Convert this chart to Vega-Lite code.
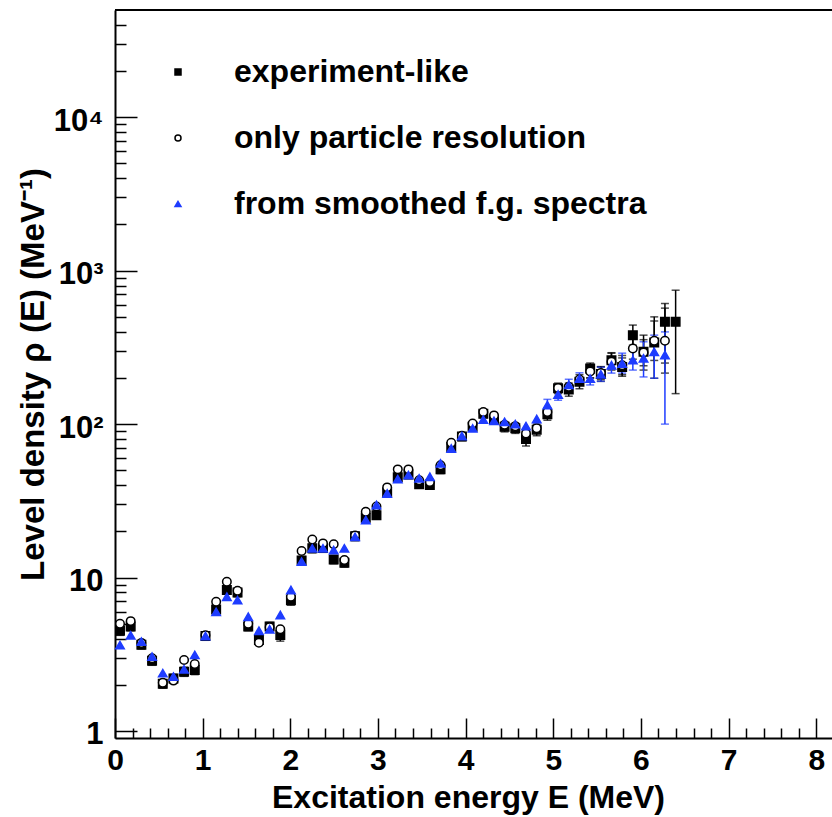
{
  "$schema": "https://vega.github.io/schema/vega-lite/v6.json",
  "width": 717,
  "height": 728,
  "autosize": "none",
  "padding": {"left": 115, "top": 10, "right": 0, "bottom": 79},
  "background": "white",
  "config": {
    "view": {"stroke": null},
    "font": "Liberation Sans",
    "axis": {
      "grid": false,
      "domainColor": "#000000",
      "domainWidth": 2,
      "tickColor": "#000000",
      "tickWidth": 1.5,
      "labelFont": "Liberation Sans",
      "labelFontWeight": "bold",
      "labelColor": "#000000",
      "labelFlush": false,
      "labelOverlap": false,
      "labelBound": false,
      "titleFont": "Liberation Sans",
      "titleFontWeight": "bold",
      "titleColor": "#000000"
    },
    "legend": {
      "orient": "none",
      "legendX": 47,
      "legendY": 46,
      "padding": 0,
      "symbolSize": 36,
      "symbolStrokeWidth": 1.5,
      "labelOffset": 40,
      "rowPadding": 34,
      "labelFont": "Liberation Sans",
      "labelFontWeight": "bold",
      "labelFontSize": 32,
      "labelColor": "#000000",
      "labelLimit": 600
    }
  },
  "resolve": {"axis": {"x": "independent", "y": "independent"}},
  "data": {
    "values": [
      {"s": "experiment-like", "E": 0.057, "v": 4.5, "lo": 4.2, "hi": 4.8},
      {"s": "experiment-like", "E": 0.179, "v": 4.8, "lo": 4.5, "hi": 5.1},
      {"s": "experiment-like", "E": 0.301, "v": 3.65, "lo": 3.42, "hi": 3.88},
      {"s": "experiment-like", "E": 0.423, "v": 2.87, "lo": 2.68, "hi": 3.06},
      {"s": "experiment-like", "E": 0.545, "v": 2.03, "lo": 1.9, "hi": 2.16},
      {"s": "experiment-like", "E": 0.667, "v": 2.2, "lo": 2.06, "hi": 2.34},
      {"s": "experiment-like", "E": 0.788, "v": 2.43, "lo": 2.27, "hi": 2.6},
      {"s": "experiment-like", "E": 0.91, "v": 2.5, "lo": 2.33, "hi": 2.68},
      {"s": "experiment-like", "E": 1.032, "v": 4.16, "lo": 3.9, "hi": 4.42},
      {"s": "experiment-like", "E": 1.154, "v": 6.2, "lo": 5.8, "hi": 6.6},
      {"s": "experiment-like", "E": 1.276, "v": 8.3, "lo": 7.8, "hi": 8.8},
      {"s": "experiment-like", "E": 1.398, "v": 8.0, "lo": 7.5, "hi": 8.5},
      {"s": "experiment-like", "E": 1.52, "v": 4.8, "lo": 4.5, "hi": 5.1},
      {"s": "experiment-like", "E": 1.642, "v": 3.92, "lo": 3.62, "hi": 4.22},
      {"s": "experiment-like", "E": 1.764, "v": 4.8, "lo": 4.5, "hi": 5.1},
      {"s": "experiment-like", "E": 1.886, "v": 4.22, "lo": 3.85, "hi": 4.6},
      {"s": "experiment-like", "E": 2.007, "v": 7.1, "lo": 6.6, "hi": 7.6},
      {"s": "experiment-like", "E": 2.129, "v": 12.9, "lo": 12.1, "hi": 13.7},
      {"s": "experiment-like", "E": 2.251, "v": 15.5, "lo": 14.5, "hi": 16.5},
      {"s": "experiment-like", "E": 2.373, "v": 15.6, "lo": 14.6, "hi": 16.6},
      {"s": "experiment-like", "E": 2.495, "v": 13.1, "lo": 12.3, "hi": 13.9},
      {"s": "experiment-like", "E": 2.617, "v": 12.5, "lo": 11.7, "hi": 13.3},
      {"s": "experiment-like", "E": 2.739, "v": 18.6, "lo": 17.4, "hi": 19.8},
      {"s": "experiment-like", "E": 2.861, "v": 24.5, "lo": 23, "hi": 26},
      {"s": "experiment-like", "E": 2.983, "v": 25.5, "lo": 24, "hi": 27},
      {"s": "experiment-like", "E": 3.105, "v": 36, "lo": 33.8, "hi": 38.2},
      {"s": "experiment-like", "E": 3.226, "v": 45, "lo": 42.3, "hi": 47.7},
      {"s": "experiment-like", "E": 3.348, "v": 47, "lo": 44.2, "hi": 49.8},
      {"s": "experiment-like", "E": 3.47, "v": 40.6, "lo": 38.2, "hi": 43},
      {"s": "experiment-like", "E": 3.592, "v": 40.1, "lo": 37.7, "hi": 42.5},
      {"s": "experiment-like", "E": 3.714, "v": 50.7, "lo": 47.6, "hi": 53.8},
      {"s": "experiment-like", "E": 3.836, "v": 71, "lo": 66.7, "hi": 75.3},
      {"s": "experiment-like", "E": 3.958, "v": 83, "lo": 78, "hi": 88},
      {"s": "experiment-like", "E": 4.08, "v": 96, "lo": 90, "hi": 102},
      {"s": "experiment-like", "E": 4.202, "v": 117, "lo": 110, "hi": 124},
      {"s": "experiment-like", "E": 4.324, "v": 107, "lo": 100, "hi": 114},
      {"s": "experiment-like", "E": 4.445, "v": 96, "lo": 89, "hi": 103},
      {"s": "experiment-like", "E": 4.567, "v": 94, "lo": 87, "hi": 101},
      {"s": "experiment-like", "E": 4.689, "v": 80, "lo": 72, "hi": 88},
      {"s": "experiment-like", "E": 4.811, "v": 92, "lo": 84, "hi": 100},
      {"s": "experiment-like", "E": 4.933, "v": 116, "lo": 106, "hi": 127},
      {"s": "experiment-like", "E": 5.055, "v": 171, "lo": 158, "hi": 185},
      {"s": "experiment-like", "E": 5.177, "v": 168, "lo": 152, "hi": 185},
      {"s": "experiment-like", "E": 5.299, "v": 189, "lo": 170, "hi": 210},
      {"s": "experiment-like", "E": 5.421, "v": 230, "lo": 200, "hi": 250},
      {"s": "experiment-like", "E": 5.543, "v": 212, "lo": 190, "hi": 236},
      {"s": "experiment-like", "E": 5.664, "v": 261, "lo": 230, "hi": 292},
      {"s": "experiment-like", "E": 5.786, "v": 236, "lo": 205, "hi": 270},
      {"s": "experiment-like", "E": 5.908, "v": 380, "lo": 327, "hi": 442},
      {"s": "experiment-like", "E": 6.03, "v": 296, "lo": 225, "hi": 380},
      {"s": "experiment-like", "E": 6.152, "v": 340, "lo": 199, "hi": 500},
      {"s": "experiment-like", "E": 6.274, "v": 464, "lo": 250, "hi": 611},
      {"s": "experiment-like", "E": 6.396, "v": 464, "lo": 158, "hi": 746},

      {"s": "only particle resolution", "E": 0.057, "v": 5.0},
      {"s": "only particle resolution", "E": 0.179, "v": 5.2},
      {"s": "only particle resolution", "E": 0.301, "v": 3.75},
      {"s": "only particle resolution", "E": 0.423, "v": 2.98},
      {"s": "only particle resolution", "E": 0.545, "v": 2.06},
      {"s": "only particle resolution", "E": 0.667, "v": 2.13},
      {"s": "only particle resolution", "E": 0.788, "v": 2.9},
      {"s": "only particle resolution", "E": 0.91, "v": 2.73},
      {"s": "only particle resolution", "E": 1.032, "v": 4.2},
      {"s": "only particle resolution", "E": 1.154, "v": 6.95},
      {"s": "only particle resolution", "E": 1.276, "v": 9.4},
      {"s": "only particle resolution", "E": 1.398, "v": 8.2},
      {"s": "only particle resolution", "E": 1.52, "v": 5.0},
      {"s": "only particle resolution", "E": 1.642, "v": 3.76},
      {"s": "only particle resolution", "E": 1.764, "v": 4.75},
      {"s": "only particle resolution", "E": 1.886, "v": 4.6},
      {"s": "only particle resolution", "E": 2.007, "v": 7.5},
      {"s": "only particle resolution", "E": 2.129, "v": 14.9},
      {"s": "only particle resolution", "E": 2.251, "v": 17.7},
      {"s": "only particle resolution", "E": 2.373, "v": 16.7},
      {"s": "only particle resolution", "E": 2.495, "v": 16.5},
      {"s": "only particle resolution", "E": 2.617, "v": 13.0},
      {"s": "only particle resolution", "E": 2.739, "v": 18.8},
      {"s": "only particle resolution", "E": 2.861, "v": 26.8},
      {"s": "only particle resolution", "E": 2.983, "v": 29},
      {"s": "only particle resolution", "E": 3.105, "v": 38.7},
      {"s": "only particle resolution", "E": 3.226, "v": 50.7},
      {"s": "only particle resolution", "E": 3.348, "v": 50.7},
      {"s": "only particle resolution", "E": 3.47, "v": 43},
      {"s": "only particle resolution", "E": 3.592, "v": 42},
      {"s": "only particle resolution", "E": 3.714, "v": 54},
      {"s": "only particle resolution", "E": 3.836, "v": 75.5},
      {"s": "only particle resolution", "E": 3.958, "v": 84},
      {"s": "only particle resolution", "E": 4.08, "v": 101},
      {"s": "only particle resolution", "E": 4.202, "v": 120},
      {"s": "only particle resolution", "E": 4.324, "v": 114},
      {"s": "only particle resolution", "E": 4.445, "v": 99},
      {"s": "only particle resolution", "E": 4.567, "v": 97},
      {"s": "only particle resolution", "E": 4.689, "v": 87},
      {"s": "only particle resolution", "E": 4.811, "v": 94},
      {"s": "only particle resolution", "E": 4.933, "v": 120},
      {"s": "only particle resolution", "E": 5.055, "v": 172},
      {"s": "only particle resolution", "E": 5.177, "v": 175},
      {"s": "only particle resolution", "E": 5.299, "v": 195},
      {"s": "only particle resolution", "E": 5.421, "v": 220, "lo": 200, "hi": 242},
      {"s": "only particle resolution", "E": 5.543, "v": 215, "lo": 195, "hi": 237},
      {"s": "only particle resolution", "E": 5.664, "v": 255, "lo": 225, "hi": 290},
      {"s": "only particle resolution", "E": 5.786, "v": 242, "lo": 210, "hi": 280},
      {"s": "only particle resolution", "E": 5.908, "v": 311, "lo": 265, "hi": 365},
      {"s": "only particle resolution", "E": 6.03, "v": 293, "lo": 240, "hi": 355},
      {"s": "only particle resolution", "E": 6.152, "v": 349, "lo": 260, "hi": 470},
      {"s": "only particle resolution", "E": 6.274, "v": 349, "lo": 215, "hi": 570},

      {"s": "from smoothed f.g. spectra", "E": 0.057, "v": 3.63},
      {"s": "from smoothed f.g. spectra", "E": 0.179, "v": 4.2},
      {"s": "from smoothed f.g. spectra", "E": 0.301, "v": 3.82},
      {"s": "from smoothed f.g. spectra", "E": 0.423, "v": 3.05},
      {"s": "from smoothed f.g. spectra", "E": 0.545, "v": 2.38},
      {"s": "from smoothed f.g. spectra", "E": 0.667, "v": 2.26},
      {"s": "from smoothed f.g. spectra", "E": 0.788, "v": 2.52},
      {"s": "from smoothed f.g. spectra", "E": 0.91, "v": 3.13},
      {"s": "from smoothed f.g. spectra", "E": 1.032, "v": 4.16},
      {"s": "from smoothed f.g. spectra", "E": 1.154, "v": 5.98},
      {"s": "from smoothed f.g. spectra", "E": 1.276, "v": 7.5},
      {"s": "from smoothed f.g. spectra", "E": 1.398, "v": 7.13},
      {"s": "from smoothed f.g. spectra", "E": 1.52, "v": 5.55},
      {"s": "from smoothed f.g. spectra", "E": 1.642, "v": 4.5},
      {"s": "from smoothed f.g. spectra", "E": 1.764, "v": 4.6},
      {"s": "from smoothed f.g. spectra", "E": 1.886, "v": 5.7},
      {"s": "from smoothed f.g. spectra", "E": 2.007, "v": 8.3},
      {"s": "from smoothed f.g. spectra", "E": 2.129, "v": 12.7},
      {"s": "from smoothed f.g. spectra", "E": 2.251, "v": 15.5},
      {"s": "from smoothed f.g. spectra", "E": 2.373, "v": 15.5},
      {"s": "from smoothed f.g. spectra", "E": 2.495, "v": 15.1},
      {"s": "from smoothed f.g. spectra", "E": 2.617, "v": 15.5},
      {"s": "from smoothed f.g. spectra", "E": 2.739, "v": 18.4},
      {"s": "from smoothed f.g. spectra", "E": 2.861, "v": 23.7},
      {"s": "from smoothed f.g. spectra", "E": 2.983, "v": 29.7},
      {"s": "from smoothed f.g. spectra", "E": 3.105, "v": 35.3},
      {"s": "from smoothed f.g. spectra", "E": 3.226, "v": 43.8},
      {"s": "from smoothed f.g. spectra", "E": 3.348, "v": 46.5},
      {"s": "from smoothed f.g. spectra", "E": 3.47, "v": 44.3},
      {"s": "from smoothed f.g. spectra", "E": 3.592, "v": 45.4},
      {"s": "from smoothed f.g. spectra", "E": 3.714, "v": 55.5},
      {"s": "from smoothed f.g. spectra", "E": 3.836, "v": 69.4},
      {"s": "from smoothed f.g. spectra", "E": 3.958, "v": 83.5},
      {"s": "from smoothed f.g. spectra", "E": 4.08, "v": 93.7},
      {"s": "from smoothed f.g. spectra", "E": 4.202, "v": 107},
      {"s": "from smoothed f.g. spectra", "E": 4.324, "v": 105},
      {"s": "from smoothed f.g. spectra", "E": 4.445, "v": 103.5},
      {"s": "from smoothed f.g. spectra", "E": 4.567, "v": 100},
      {"s": "from smoothed f.g. spectra", "E": 4.689, "v": 97},
      {"s": "from smoothed f.g. spectra", "E": 4.811, "v": 108},
      {"s": "from smoothed f.g. spectra", "E": 4.933, "v": 133, "lo": 122, "hi": 145},
      {"s": "from smoothed f.g. spectra", "E": 5.055, "v": 156, "lo": 143, "hi": 170},
      {"s": "from smoothed f.g. spectra", "E": 5.177, "v": 180, "lo": 165, "hi": 196},
      {"s": "from smoothed f.g. spectra", "E": 5.299, "v": 198, "lo": 180, "hi": 216},
      {"s": "from smoothed f.g. spectra", "E": 5.421, "v": 198, "lo": 180, "hi": 220},
      {"s": "from smoothed f.g. spectra", "E": 5.543, "v": 211, "lo": 190, "hi": 235},
      {"s": "from smoothed f.g. spectra", "E": 5.664, "v": 242, "lo": 215, "hi": 272},
      {"s": "from smoothed f.g. spectra", "E": 5.786, "v": 248, "lo": 215, "hi": 290},
      {"s": "from smoothed f.g. spectra", "E": 5.908, "v": 261, "lo": 225, "hi": 300},
      {"s": "from smoothed f.g. spectra", "E": 6.03, "v": 268, "lo": 203, "hi": 344},
      {"s": "from smoothed f.g. spectra", "E": 6.152, "v": 296, "lo": 199, "hi": 380},
      {"s": "from smoothed f.g. spectra", "E": 6.274, "v": 282, "lo": 100, "hi": 399}
    ]
  },
  "layer": [
    {
      "data": {"values": [{}]},
      "mark": {"type": "rule", "color": "#000000", "strokeWidth": 2},
      "encoding": {
        "y": {"datum": 50000, "type": "quantitative", "scale": {"type": "log", "domain": [0.9, 50000], "nice": false}, "axis": null}
      }
    },
    {
      "transform": [{"filter": "isValid(datum.lo)"}],
      "mark": {"type": "errorbar", "ticks": {"size": 8, "thickness": 1.5}, "rule": {"strokeWidth": 1.5}},
      "encoding": {
        "x": {
          "field": "E", "type": "quantitative",
          "scale": {"domain": [0, 8.18], "nice": false, "zero": false},
          "axis": {
            "orient": "bottom", "title": null, "labels": false, "domain": false,
            "values": [0.2, 0.4, 0.6, 0.8, 1.2, 1.4, 1.6, 1.8, 2.2, 2.4, 2.6, 2.8, 3.2, 3.4, 3.6, 3.8, 4.2, 4.4, 4.6, 4.8, 5.2, 5.4, 5.6, 5.8, 6.2, 6.4, 6.6, 6.8, 7.2, 7.4, 7.6, 7.8],
            "tickSize": -10
          }
        },
        "y": {
          "field": "lo", "type": "quantitative",
          "scale": {"type": "log", "domain": [0.9, 50000], "nice": false},
          "axis": {
            "orient": "left", "title": null, "labels": false, "domain": false,
            "values": [2, 3, 4, 5, 6, 7, 8, 9, 20, 30, 40, 50, 60, 70, 80, 90, 200, 300, 400, 500, 600, 700, 800, 900, 2000, 3000, 4000, 5000, 6000, 7000, 8000, 9000, 20000, 30000, 40000],
            "tickSize": -11
          }
        },
        "y2": {"field": "hi"},
        "color": {
          "field": "s", "type": "nominal", "legend": null,
          "scale": {"domain": ["from smoothed f.g. spectra", "experiment-like", "only particle resolution"], "range": ["#1e3cff", "#000000", "#000000"]}
        }
      }
    },
    {
      "mark": {"type": "point", "filled": true, "size": 72, "strokeWidth": 1.5, "opacity": 1},
      "encoding": {
        "x": {
          "field": "E", "type": "quantitative",
          "scale": {"domain": [0, 8.18], "nice": false, "zero": false},
          "axis": {
            "orient": "bottom",
            "title": "Excitation energy E (MeV)",
            "values": [0, 1, 2, 3, 4, 5, 6, 7, 8],
            "format": "d",
            "tickSize": -20,
            "labelPadding": 27,
            "labelBaseline": "top",
            "labelFontSize": 30,
            "titleFontSize": 32,
            "titleX": 353,
            "titleY": 69,
            "titleAlign": "center",
            "titleBaseline": "alphabetic"
          }
        },
        "y": {
          "field": "v", "type": "quantitative",
          "scale": {"type": "log", "domain": [0.9, 50000], "nice": false},
          "axis": {
            "orient": "left",
            "title": "Level density ρ (E) (MeV⁻¹)",
            "values": [1, 10, 100, 1000, 10000],
            "labelExpr": "datum.value === 1 ? '1' : datum.value === 10 ? '10' : datum.value === 100 ? '10²' : datum.value === 1000 ? '10³' : '10⁴'",
            "tickSize": -22,
            "labelPadding": 34,
            "labelBaseline": "middle",
            "labelOffset": 4,
            "labelFontSize": 31,
            "titleFontSize": 33,
            "titleAngle": 270,
            "titleX": -72,
            "titleY": 364,
            "titleAlign": "center",
            "titleBaseline": "alphabetic"
          }
        },
        "shape": {
          "field": "s", "type": "nominal", "title": null,
          "scale": {"domain": ["experiment-like", "only particle resolution", "from smoothed f.g. spectra"], "range": ["square", "circle", "triangle-up"]}
        },
        "fill": {
          "field": "s", "type": "nominal", "title": null,
          "scale": {"domain": ["experiment-like", "only particle resolution", "from smoothed f.g. spectra"], "range": ["#000000", "#ffffff", "#1e3cff"]}
        },
        "stroke": {
          "field": "s", "type": "nominal", "title": null,
          "scale": {"domain": ["experiment-like", "only particle resolution", "from smoothed f.g. spectra"], "range": ["#000000", "#000000", "#1e3cff"]}
        }
      }
    }
  ]
}
